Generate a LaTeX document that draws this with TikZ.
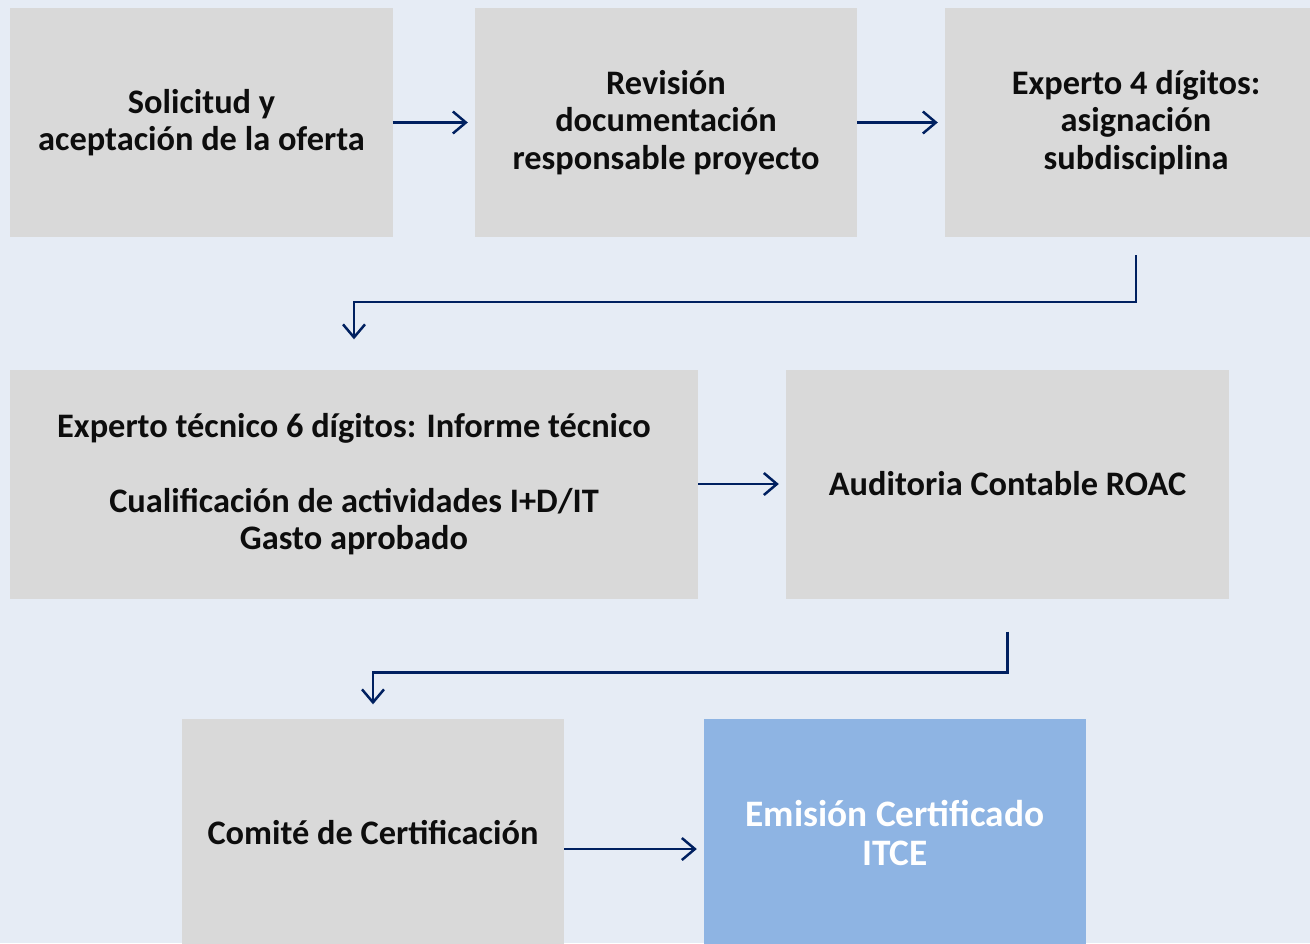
\documentclass[tikz,border=0pt]{standalone}
\usepackage{fontspec}
\setmainfont{Carlito}
\usetikzlibrary{arrows.meta}
\tikzset{>={Straight Barb[length=13bp,width=22bp]}}
\definecolor{fondo}{HTML}{E6ECF5}
\definecolor{gris}{HTML}{D9D9D9}
\definecolor{celeste}{HTML}{8EB4E3}
\definecolor{azul}{HTML}{002060}

\begin{document}
\begin{tikzpicture}[x=1bp, y=-1bp,
    caja/.style={fill=gris, minimum width=382bp, minimum height=229bp, inner sep=0pt,
        align=center, text=black!95, font=\fontsize{34.5}{37.5}\selectfont\bfseries},
    flecha/.style={->, draw=azul, line width=2.5bp, shorten >=7bp}]
            \fill[fondo] (0, 0) rectangle (1310, 943);
            \useasboundingbox (0, 0) rectangle (1310, 943);

            \node[caja] (solicitud) at (201.5, 122.5) {Solicitud y\\aceptación de la oferta};
            \node[caja] (revision) at (666, 122.5) {Revisión\\documentación\\responsable proyecto};
            \node[caja] (experto) at (1136, 122.5) {Experto 4 dígitos:\\asignación\\subdisciplina};

            \node[caja, minimum width=688bp] (informe) at (354, 484)
                {Experto técnico 6 dígitos: Informe técnico\\[37.5bp]Cualificación de actividades I+D/IT\\Gasto aprobado};
            \node[caja, minimum width=443bp] (auditoria) at (1007.5, 484) {Auditoria Contable ROAC};

            \node[caja] (comite) at (373, 833) {Comité de Certificación};
            \node[caja, fill=celeste, text=white, font=\fontsize{37.5}{40}\selectfont\bfseries]
                (emision) at (895, 833) {Emisión Certificado\\ITCE};

            % flechas
            \draw[flecha] (solicitud) -- (revision);
            \draw[flecha] (revision) -- (experto);
            \draw[flecha] (informe) -- (auditoria);
            \draw[flecha] ([yshift=-16bp]comite.east) -- ([yshift=-16bp]emision.west);

            \draw[flecha, shorten >=0pt] ([yshift=-18bp]experto.south) -- ++(0, 47) -| ([yshift=30bp]informe.north);
            \draw[flecha, shorten >=0pt] ([yshift=-33bp]auditoria.south) -- ++(0, 41) -| ([yshift=14bp]comite.north);
        \end{tikzpicture}
\end{document}
